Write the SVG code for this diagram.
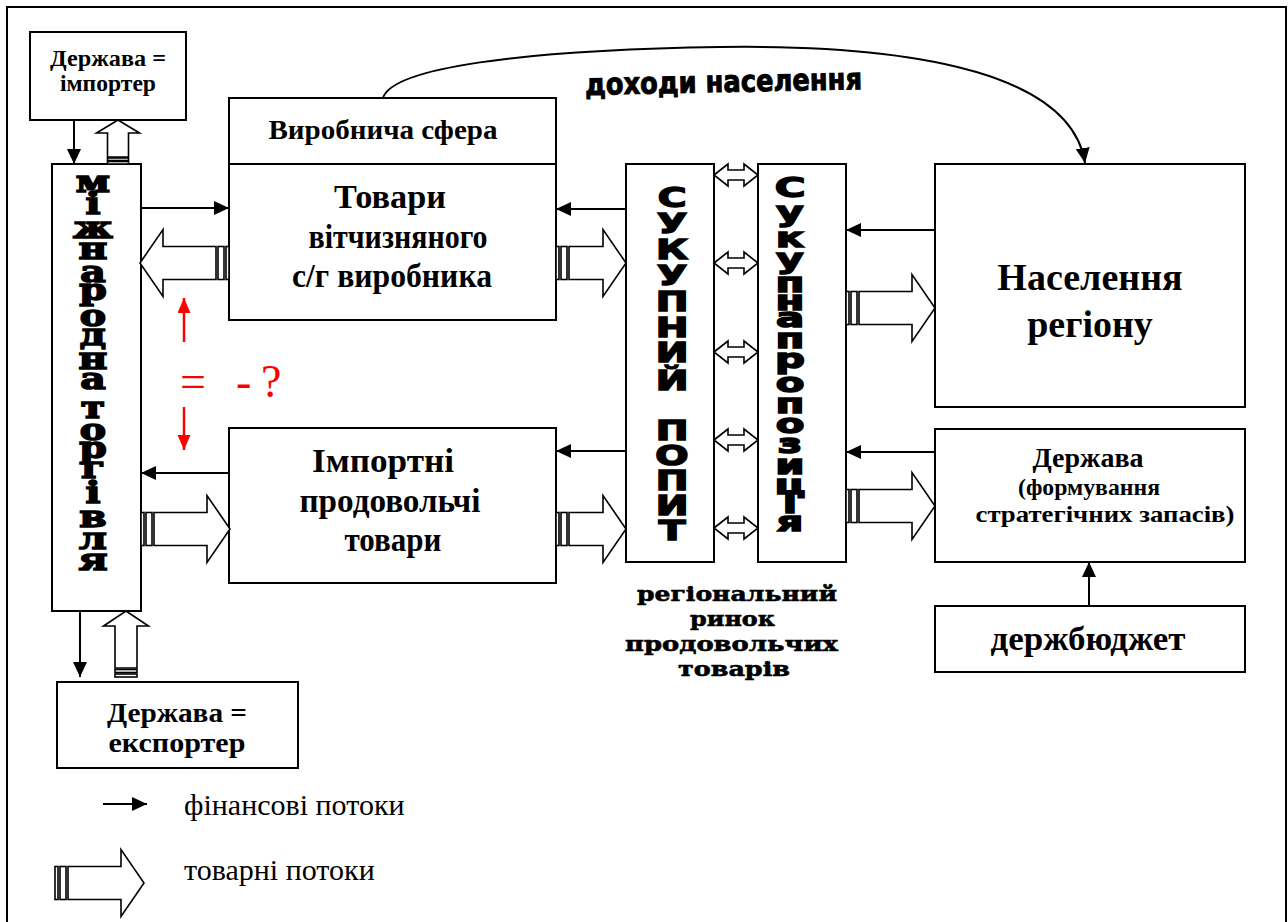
<svg xmlns="http://www.w3.org/2000/svg" width="1288" height="922" viewBox="0 0 1288 922">
<style>
.box{fill:#fff;stroke:#000;stroke-width:2}
.ln{fill:none;stroke:#000;stroke-width:2}
.blk{fill:#fff;stroke:#000;stroke-width:1.6}
.ser{font-family:"Liberation Serif","Times New Roman",serif;font-weight:bold;fill:#000;text-anchor:middle}
.reg{font-family:"Liberation Serif","Times New Roman",serif;fill:#000}
.vs{font-family:"DejaVu Serif",serif;font-weight:bold;font-size:29px;text-anchor:middle;fill:#000;stroke:#000;stroke-width:1.5}
.vb{font-family:"DejaVu Sans",sans-serif;font-weight:bold;font-size:27px;text-anchor:middle;fill:#000;stroke:#000;stroke-width:1.5}
.mk{font-family:"DejaVu Serif",serif;font-weight:bold;font-size:21px;fill:#000;stroke:#000;stroke-width:0.6}
.red{fill:none;stroke:#f00;stroke-width:2.5}
</style>
<defs>
<marker id="ah" markerUnits="userSpaceOnUse" markerWidth="16" markerHeight="14" refX="15" refY="7" orient="auto"><path d="M0,0 L15,7 L0,14 Z" fill="#000"/></marker>
<marker id="ahr" markerUnits="userSpaceOnUse" markerWidth="16" markerHeight="14" refX="15" refY="6.5" orient="auto"><path d="M0,0 L15,6.5 L0,13 Z" fill="#f00"/></marker>
<g id="ba89" class="blk">
<rect x="0" y="-16.5" width="3" height="33"/>
<rect x="5" y="-16.5" width="6" height="33"/>
<path d="M13,-16.5 H66 V-33.5 L89,0 L66,33.5 V16.5 H13 Z"/>
</g>
<g id="ba70" class="blk">
<rect x="0" y="-16.5" width="3" height="33"/>
<rect x="5" y="-16.5" width="6" height="33"/>
<path d="M13,-16.5 H47 V-33.5 L70,0 L47,33.5 V16.5 H13 Z"/>
</g>
<g id="bs44" class="blk">
<rect x="0" y="-10.5" width="2.5" height="21"/>
<rect x="3.5" y="-10.5" width="2.5" height="21"/>
<path d="M7,-10.5 H31 V-21.5 L44,0 L31,21.5 V10.5 H7 Z"/>
</g>
<g id="bs66" class="blk">
<rect x="0" y="-11" width="3" height="22"/>
<rect x="4.5" y="-11" width="3" height="22"/>
<path d="M9,-11 H51 V-22.5 L66,0 L51,22.5 V11 H9 Z"/>
</g>
<path id="dbl" class="blk" d="M0,0 L14,-11 V-5 H30 V-11 L44,0 L30,11 V5 H14 V11 Z"/>
</defs>

<rect x="0" y="0" width="1288" height="922" fill="#fff"/>
<rect x="7" y="7" width="1279" height="930" fill="none" stroke="#000" stroke-width="2"/>

<g id="importer">
<rect class="box" x="30" y="32" width="156" height="88"/>
<text class="ser" font-size="23" x="108" y="66" textLength="116" lengthAdjust="spacingAndGlyphs">Держава =</text>
<text class="ser" font-size="23" x="108" y="91" textLength="96" lengthAdjust="spacingAndGlyphs">імпортер</text>
</g>

<g id="trade">
<rect class="box" x="52" y="164" width="89" height="447"/>
<g transform="translate(93,0) scale(1.36,1)">
<text class="vs"><tspan x="0" y="192">м</tspan><tspan x="0" y="214">і</tspan><tspan x="0" y="238">ж</tspan><tspan x="0" y="259">н</tspan><tspan x="0" y="282">а</tspan><tspan x="0" y="300">р</tspan><tspan x="0" y="326">о</tspan><tspan x="0" y="345">д</tspan><tspan x="0" y="369">н</tspan><tspan x="0" y="389">а</tspan><tspan x="0" y="418">т</tspan><tspan x="0" y="440">о</tspan><tspan x="0" y="458">р</tspan><tspan x="0" y="478">г</tspan><tspan x="0" y="503">і</tspan><tspan x="0" y="527">в</tspan><tspan x="0" y="549">л</tspan><tspan x="0" y="570">я</tspan></text>
</g>
</g>

<g id="exporter">
<rect class="box" x="57" y="682" width="241" height="86"/>
<text class="ser" font-size="27" x="177" y="722" textLength="140" lengthAdjust="spacingAndGlyphs">Держава =</text>
<text class="ser" font-size="27" x="177" y="752" textLength="137" lengthAdjust="spacingAndGlyphs">експортер</text>
</g>

<g id="production">
<rect class="box" x="229" y="98" width="327" height="66"/>
<text class="ser" font-size="27" x="383" y="139" textLength="229" lengthAdjust="spacingAndGlyphs">Виробнича сфера</text>
</g>

<g id="domestic">
<rect class="box" x="229" y="164" width="327" height="156"/>
<text class="ser" font-size="33" x="390" y="208" textLength="112" lengthAdjust="spacingAndGlyphs">Товари</text>
<text class="ser" font-size="33" x="398" y="248" textLength="179" lengthAdjust="spacingAndGlyphs">вітчизняного</text>
<text class="ser" font-size="33" x="392" y="287" textLength="200" lengthAdjust="spacingAndGlyphs">с/г виробника</text>
</g>

<g id="imported">
<rect class="box" x="229" y="428" width="327" height="155"/>
<text class="ser" font-size="33" x="383" y="472" textLength="142" lengthAdjust="spacingAndGlyphs">Імпортні</text>
<text class="ser" font-size="33" x="390" y="512" textLength="181" lengthAdjust="spacingAndGlyphs">продовольчі</text>
<text class="ser" font-size="33" x="393" y="551" textLength="97" lengthAdjust="spacingAndGlyphs">товари</text>
</g>

<g id="demand">
<rect class="box" x="626" y="164" width="88" height="398"/>
<g transform="translate(672,0) scale(1.45,1)">
<text class="vb"><tspan x="0" y="207">С</tspan><tspan x="0" y="233">У</tspan><tspan x="0" y="259">К</tspan><tspan x="0" y="285">У</tspan><tspan x="0" y="311">П</tspan><tspan x="0" y="337">Н</tspan><tspan x="0" y="362">И</tspan><tspan x="0" y="390">Й</tspan><tspan x="0" y="440">П</tspan><tspan x="0" y="465">О</tspan><tspan x="0" y="490">П</tspan><tspan x="0" y="515">И</tspan><tspan x="0" y="540">Т</tspan></text>
</g>
</g>

<g id="supply">
<rect class="box" x="758" y="164" width="88" height="398"/>
<g transform="translate(790,0) scale(1.55,1)">
<text class="vb"><tspan x="0" y="197">С</tspan><tspan x="0" y="221">у</tspan><tspan x="0" y="247">к</tspan><tspan x="0" y="268">у</tspan><tspan x="0" y="292">п</tspan><tspan x="0" y="310">н</tspan><tspan x="0" y="327">а</tspan><tspan x="0" y="348">п</tspan><tspan x="0" y="368">р</tspan><tspan x="0" y="392">о</tspan><tspan x="0" y="413">п</tspan><tspan x="0" y="433">о</tspan><tspan x="0" y="453">з</tspan><tspan x="0" y="474">и</tspan><tspan x="0" y="494">ц</tspan><tspan x="0" y="513">і</tspan><tspan x="0" y="531">я</tspan></text>
</g>
</g>

<g id="market-label">
<text class="mk" x="637" y="601" textLength="200" lengthAdjust="spacingAndGlyphs">регіональний</text>
<text class="mk" x="690" y="626" textLength="85" lengthAdjust="spacingAndGlyphs">ринок</text>
<text class="mk" x="625" y="651" textLength="213" lengthAdjust="spacingAndGlyphs">продовольчих</text>
<text class="mk" x="678" y="676" textLength="112" lengthAdjust="spacingAndGlyphs">товарів</text>
</g>

<g id="population">
<rect class="box" x="935" y="164" width="310" height="243"/>
<text class="ser" font-size="38" x="1090" y="290">Населення</text>
<text class="ser" font-size="38" x="1090" y="337">регіону</text>
</g>

<g id="state">
<rect class="box" x="935" y="429" width="310" height="133"/>
<text class="ser" font-size="28" x="1088" y="467" textLength="111" lengthAdjust="spacingAndGlyphs">Держава</text>
<text class="ser" font-size="23" x="1089" y="495" textLength="142" lengthAdjust="spacingAndGlyphs">(формування</text>
<text class="ser" font-size="23" x="1105" y="522" textLength="259" lengthAdjust="spacingAndGlyphs">стратегічних запасів)</text>
</g>

<g id="budget">
<rect class="box" x="935" y="606" width="310" height="66"/>
<text class="ser" font-size="34" x="1088" y="650" textLength="195" lengthAdjust="spacingAndGlyphs">держбюджет</text>
</g>

<g id="connectors">
<line class="ln" x1="74" y1="120" x2="74" y2="164" marker-end="url(#ah)"/>
<line class="ln" x1="80" y1="611" x2="80" y2="677" marker-end="url(#ah)"/>
<line class="ln" x1="141" y1="208" x2="229" y2="208" marker-end="url(#ah)"/>
<line class="ln" x1="229" y1="473" x2="141" y2="473" marker-end="url(#ah)"/>
<line class="ln" x1="626" y1="209" x2="556" y2="209" marker-end="url(#ah)"/>
<line class="ln" x1="626" y1="451" x2="556" y2="451" marker-end="url(#ah)"/>
<line class="ln" x1="935" y1="230" x2="846" y2="230" marker-end="url(#ah)"/>
<line class="ln" x1="935" y1="452" x2="846" y2="452" marker-end="url(#ah)"/>
<line class="ln" x1="1089" y1="606" x2="1089" y2="562" marker-end="url(#ah)"/>
<use href="#bs44" transform="translate(118,164) rotate(-90)"/>
<use href="#bs66" transform="translate(126,677) rotate(-90)"/>
<use href="#ba89" transform="translate(229,263) rotate(180)"/>
<use href="#ba89" transform="translate(141,529)"/>
<use href="#ba70" transform="translate(556,263)"/>
<use href="#ba70" transform="translate(556,529)"/>
<use href="#ba89" transform="translate(846,308)"/>
<use href="#ba89" transform="translate(846,506)"/>
<use href="#dbl" transform="translate(714,175)"/>
<use href="#dbl" transform="translate(714,263)"/>
<use href="#dbl" transform="translate(714,352)"/>
<use href="#dbl" transform="translate(714,440)"/>
<use href="#dbl" transform="translate(714,528)"/>
<path class="ln" d="M383,98 C392,68 520,50 720,47 C930,44 1072,78 1085,163" marker-end="url(#ah)"/>
<text font-family="DejaVu Sans,sans-serif" font-weight="bold" font-size="30" stroke="#000" stroke-width="1" x="585" y="92" textLength="277" lengthAdjust="spacingAndGlyphs" transform="rotate(-1.2 723 82)">доходи населення</text>
<line class="red" x1="184" y1="342" x2="184" y2="298" marker-end="url(#ahr)"/>
<line class="red" x1="184" y1="407" x2="184" y2="450" marker-end="url(#ahr)"/>
<text class="reg" font-size="46" style="fill:#f00" y="397"><tspan x="180">=</tspan><tspan x="236">-</tspan><tspan x="261">?</tspan></text>
</g>

<g id="legend">
<line class="ln" x1="103" y1="804" x2="147" y2="804" marker-end="url(#ah)"/>
<text class="reg" font-size="30" x="184" y="815">фінансові потоки</text>
<use href="#ba89" transform="translate(55,883)"/>
<text class="reg" font-size="30" x="184" y="880">товарні потоки</text>
</g>
</svg>
